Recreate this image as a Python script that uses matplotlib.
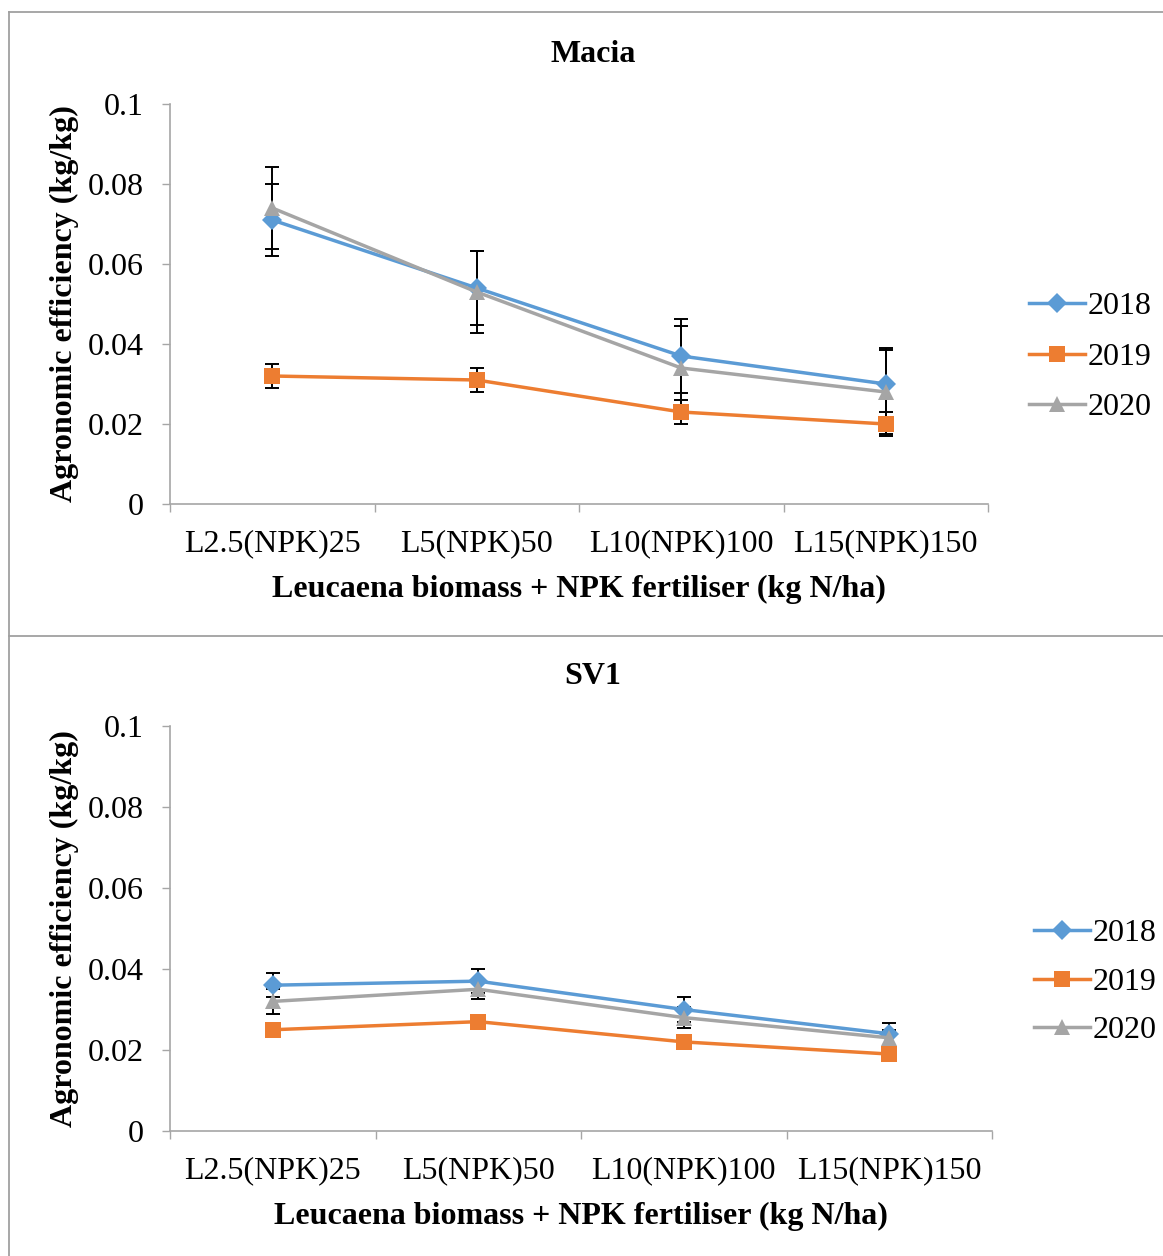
import matplotlib

matplotlib.use("Agg")
import matplotlib.pyplot as plt
from matplotlib.lines import Line2D
import numpy as np

categories = ["L2.5(NPK)25", "L5(NPK)50", "L10(NPK)100", "L15(NPK)150"]
years = ["2018", "2019", "2020"]

macia_2018 = [0.071, 0.054, 0.037, 0.030]
macia_2019 = [0.032, 0.031, 0.023, 0.020]
macia_2020 = [0.074, 0.053, 0.034, 0.028]
macia_err_2018 = [0.009, 0.0093, 0.0092, 0.009]
macia_err_2019 = [0.003, 0.003, 0.003, 0.003]
macia_err_2020 = [0.0103, 0.0103, 0.0105, 0.0105]

sv1_2018 = [0.036, 0.037, 0.030, 0.024]
sv1_2019 = [0.025, 0.027, 0.022, 0.019]
sv1_2020 = [0.032, 0.035, 0.028, 0.023]
sv1_err_2018 = [0.003, 0.003, 0.003, 0.0027]
sv1_err_2019 = [0.001, 0.001, 0.001, 0.001]
sv1_err_2020 = [0.003, 0.0025, 0.0025, 0.002]

colors = {"2018": "#5B9BD5", "2019": "#ED7D31", "2020": "#A5A5A5"}
markers = {"2018": ("D", 10), "2019": ("s", 12), "2020": ("^", 12)}
spine_color = "#A6A6A6"
FS = 23

plt.rcParams["font.family"] = ["Liberation Serif", "DejaVu Serif"]

W, H = 1163, 1256
fig = plt.figure(figsize=(W / 100, H / 100), dpi=100)


def px_axes(left, top, right, bottom):
    return fig.add_axes([left / W, 1 - bottom / H, (right - left) / W, (bottom - top) / H])


def draw_panel(ax, title, title_y, series, errors, legend_anchor, spacing):
    x = np.arange(len(categories))
    for yr in years:
        ax.errorbar(x, series[yr], yerr=errors[yr], fmt="none", ecolor="black",
                    elinewidth=1.4, capsize=5, capthick=1.4, zorder=2)
    handles = []
    for yr in years:
        m, ms = markers[yr]
        (ln,) = ax.plot(x, series[yr], color=colors[yr], linewidth=2.5, marker=m,
                        markersize=ms, markeredgewidth=0, label=yr, zorder=3)
        handles.append(ln)

    ax.set_xlim(-0.5, len(categories) - 0.5)
    ax.set_ylim(0, 0.1)
    ax.set_yticks([0, 0.02, 0.04, 0.06, 0.08, 0.1])
    ax.set_yticklabels(["0", "0.02", "0.04", "0.06", "0.08", "0.1"])
    ax.set_xticks(np.arange(len(categories) + 1) - 0.5)
    ax.set_xticklabels([])
    ax.set_xticks(x, minor=True)
    ax.set_xticklabels(categories, minor=True)
    ax.tick_params(axis="x", which="major", direction="out", length=6, width=1, color=spine_color)
    ax.tick_params(axis="x", which="minor", length=0, pad=18, labelsize=FS)
    ax.tick_params(axis="y", direction="out", length=6, width=1, color=spine_color,
                   pad=13, labelsize=FS)
    for side in ("top", "right"):
        ax.spines[side].set_visible(False)
    for side in ("left", "bottom"):
        ax.spines[side].set_color(spine_color)
        ax.spines[side].set_linewidth(1.2)

    fig.text(593 / W, 1 - title_y / H, title, fontsize=FS, fontweight="bold",
             ha="center", va="center")
    ax.set_xlabel("Leucaena biomass + NPK fertiliser (kg N/ha)", fontsize=FS,
                  fontweight="bold", labelpad=12)
    ax.set_ylabel("Agronomic efficiency (kg/kg)", fontsize=FS, fontweight="bold", labelpad=6)

    fig.legend(handles=handles, loc="center left",
               bbox_to_anchor=(legend_anchor[0] / W, 1 - legend_anchor[1] / H),
               frameon=False, fontsize=FS, handlelength=1.75, handletextpad=0.1,
               labelspacing=spacing, borderaxespad=0, borderpad=0)


top_ax = px_axes(170, 104, 988, 504)
draw_panel(top_ax, "Macia", 55,
           {"2018": macia_2018, "2019": macia_2019, "2020": macia_2020},
           {"2018": macia_err_2018, "2019": macia_err_2019, "2020": macia_err_2020},
           (1029, 357), 0.66)

bottom_ax = px_axes(170, 726, 992, 1131)
draw_panel(bottom_ax, "SV1", 677,
           {"2018": sv1_2018, "2019": sv1_2019, "2020": sv1_2020},
           {"2018": sv1_err_2018, "2019": sv1_err_2019, "2020": sv1_err_2020},
           (1034, 982), 0.6)

# chart-area frames around each panel
frame_kw = dict(color="#A0A0A0", linewidth=1.3, transform=fig.transFigure)
for xs, ys in [
    ([9, 9], [12, 1256]),
    ([9, 1163], [12, 12]),
    ([9, 1163], [636, 636]),
]:
    fig.add_artist(Line2D([v / W for v in xs], [1 - v / H for v in ys], **frame_kw))

fig.savefig("out.png", dpi=100)
